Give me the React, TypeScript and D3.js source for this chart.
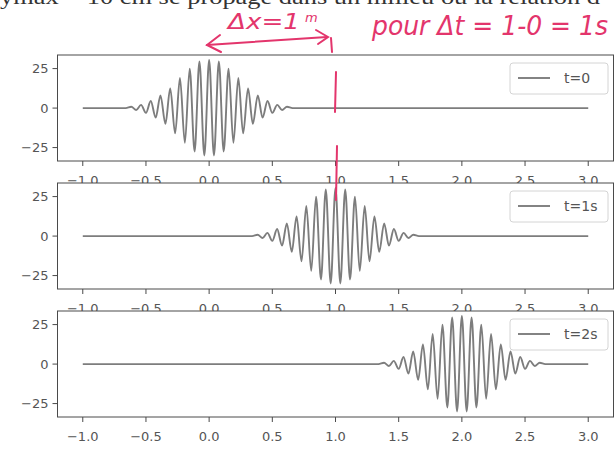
import React from "react";
import * as d3 from "d3";

// ---- data ----
const xTicks = [-1.0, -0.5, 0.0, 0.5, 1.0, 1.5, 2.0, 2.5, 3.0];
const yTicks = [-25, 0, 25];
const xDomain = [-1.2, 3.2];
const yDomain = [-33.5, 33.6];

// extrema of the wave packet, relative to its centre (x units) and their values
const packetOffsets = [
  -0.66, -0.616, -0.577, -0.539, -0.5, -0.462, -0.423, -0.385, -0.346, -0.308, -0.269,
  -0.231, -0.192, -0.154, -0.115, -0.077, -0.038, 0, 0.038, 0.077, 0.115, 0.154, 0.192,
  0.231, 0.269, 0.308, 0.346, 0.385, 0.423, 0.462, 0.5, 0.539, 0.577, 0.616, 0.66,
];
const packetValues = [
  0, 0.8, -1.2, 2, -3, 4.5, -6, 8, -10, 12.5, -16, 19, -22, 25, -27.5, 29.5, -30, 30.5,
  -30, 29.5, -27.5, 25, -22, 19, -16, 12.5, -10, 8, -6, 4.5, -3, 2, -1.2, 0.8, 0,
];
const lineStart = -1.0;
const lineEnd = 3.0;
const panelCenters = [0, 1, 2];
const panelLabels = ["t=0", "t=1s", "t=2s"];

// ---- layout ----
const W = 615;
const H = 451;
const left = 57.5;
const right = 613.5;
const panelTops = [55, 183, 311];
const panelH = 106;

const gray = "#7d7d7d";
const frame = "#4a4a4a";
const txt = "#555";
const red = "#e3356c";

function Panel({ top, center, label }: { top: number; center: number; label: string }) {
  const x = d3.scaleLinear().domain(xDomain).range([left, right]);
  const y = d3.scaleLinear().domain(yDomain).range([top + panelH, top]);
  const pts: [number, number][] = [[lineStart, 0]];
  packetOffsets.forEach((o, i) => pts.push([center + o, packetValues[i]]));
  pts.push([lineEnd, 0]);
  const line = d3
    .line<[number, number]>()
    .x((d) => x(d[0]))
    .y((d) => y(d[1]))
    .curve(d3.curveMonotoneX);
  const lx = 510;
  const ly = top + 23;
  return (
    <g>
      <rect x={left} y={top} width={right - left} height={panelH} fill="#fff" />
      <path d={line(pts) || ""} fill="none" stroke={gray} strokeWidth={1.9} />
      <rect x={left} y={top} width={right - left} height={panelH} fill="none" stroke={frame} strokeWidth={1} />
      {yTicks.map((t) => (
        <g key={t}>
          <line x1={left - 5} x2={left} y1={y(t)} y2={y(t)} stroke={frame} />
          <text x={left - 9} y={y(t)} dy="0.35em" textAnchor="end" fontSize={13} fill={txt} fontFamily="DejaVu Sans">
            {t < 0 ? "\u2212" + Math.abs(t) : String(t)}
          </text>
        </g>
      ))}
      {xTicks.map((t) => (
        <g key={t}>
          <line x1={x(t)} x2={x(t)} y1={top + panelH} y2={top + panelH + 5} stroke={frame} />
          <text x={x(t)} y={top + panelH + 24} textAnchor="middle" fontSize={13} fill={txt} fontFamily="DejaVu Sans">
            {(t < 0 ? "\u2212" : "") + Math.abs(t).toFixed(1)}
          </text>
        </g>
      ))}
      <rect x={lx} y={ly - 15} width={98} height={31} rx={3} fill="#fff" stroke="#d4d4d4" strokeWidth={1} />
      <line x1={lx + 8} x2={lx + 40} y1={ly} y2={ly} stroke={gray} strokeWidth={1.9} />
      <text x={lx + 54} y={ly} dy="0.35em" fontSize={14} fill={txt} fontFamily="DejaVu Sans">
        {label}
      </text>
    </g>
  );
}

export default function App() {
  return (
    <svg width={W} height={H} style={{ display: "block", position: "absolute", left: 0, top: 0, background: "#fff" }}>
      <rect width={W} height={H} fill="#fff" />
      <text x={0} y={4} fontSize={21} fontFamily="Liberation Serif" fill="#333" textLength={600} lengthAdjust="spacingAndGlyphs">
        ymax = 10 cm se propage dans un milieu où la relation d
      </text>
      {panelTops.map((t, i) => (
        <Panel key={i} top={t} center={panelCenters[i]} label={panelLabels[i]} />
      ))}
      {/* handwritten annotations */}
      <g stroke={red} strokeWidth={2} fill="none" strokeLinecap="round">
        <path d="M207,45 L327,37" />
        <path d="M220,35 L207,45 L221,52" />
        <path d="M316,30 L328,37 L318,44" />
        <path d="M331,38 L332,52" />
        <path d="M336,72 L335,112" />
        <path d="M337,146 L336,200" />
      </g>
      <text x={228} y={29} fontSize={21} fontStyle="italic" fill={red} fontFamily="DejaVu Sans" textLength={72} lengthAdjust="spacingAndGlyphs">
        Δx=1
      </text>
      <text x={305} y={22} fontSize={13} fontStyle="italic" fill={red} fontFamily="DejaVu Sans">
        m
      </text>
      <text x={372} y={35} fontSize={27} fontStyle="italic" fill={red} fontFamily="DejaVu Sans" textLength={236} lengthAdjust="spacingAndGlyphs">
        pour Δt = 1-0 = 1s
      </text>
    </svg>
  );
}
